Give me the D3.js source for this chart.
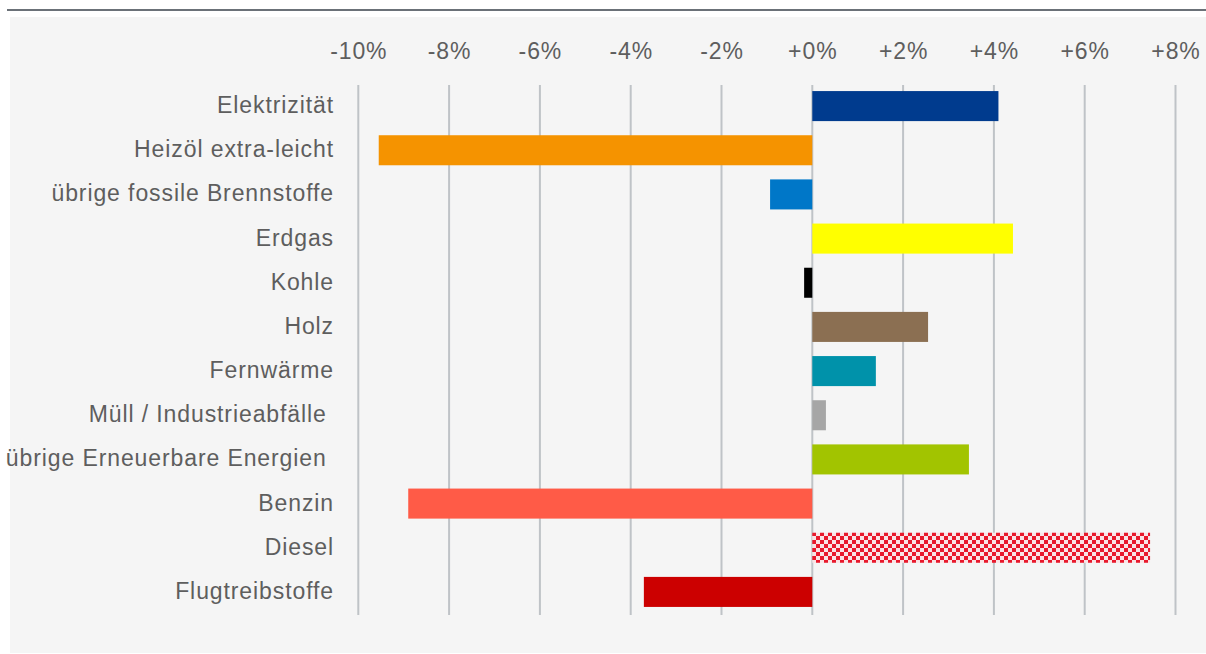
<!DOCTYPE html>
<html>
<head>
<meta charset="utf-8">
<script src="https://cdn.jsdelivr.net/npm/d3@7"></script>
<style>
  html, body { margin: 0; padding: 0; background: #ffffff; }
  svg { display: block; }
  text { font-family: "Liberation Sans", Arial, sans-serif; fill: #5e5e5e; }
</style>
</head>
<body>
<svg></svg>
<script>
var width = 1206;
var height = 654;

// categories, top to bottom
var categories = [
  "Elektrizität",
  "Heizöl extra-leicht",
  "übrige fossile Brennstoffe",
  "Erdgas",
  "Kohle",
  "Holz",
  "Fernwärme",
  "Müll / Industrieabfälle ",
  "übrige Erneuerbare Energien ",
  "Benzin",
  "Diesel",
  "Flugtreibstoffe"
];
// change in percent
var values = [4.1, -9.55, -0.93, 4.42, -0.18, 2.55, 1.4, 0.3, 3.45, -8.9, 7.44, -3.71];
var colors = ["#003b8e", "#f59300", "#0077c8", "#ffff00", "#000000", "#8b6f52",
  "#0092aa", "#a6a6a6", "#a2c400", "#ff5b47", "url(#checker)", "#cc0000"];
var tickValues = [-10, -8, -6, -4, -2, 0, 2, 4, 6, 8];

var svg = d3.select("svg")
  .attr("width", width)
  .attr("height", height);

// checker pattern for Diesel
var pat = svg.append("defs").append("pattern")
  .attr("id", "checker")
  .attr("patternUnits", "userSpaceOnUse")
  .attr("width", 8)
  .attr("height", 8);
pat.append("rect").attr("width", 8).attr("height", 8).attr("fill", "#f9e4e6");
pat.append("rect").attr("width", 4).attr("height", 4).attr("fill", "#e8192c");
pat.append("rect").attr("x", 4).attr("y", 4).attr("width", 4).attr("height", 4).attr("fill", "#e8192c");

// title rule + panel
svg.append("line")
  .attr("x1", 7).attr("x2", width)
  .attr("y1", 10).attr("y2", 10)
  .attr("stroke", "#6b7178")
  .attr("stroke-width", 2);

svg.append("rect")
  .attr("x", 10).attr("y", 17)
  .attr("width", width - 10).attr("height", 636)
  .attr("fill", "#f5f5f5");

var x = d3.scaleLinear()
  .domain([-10, 8])
  .range([358.3, 1175.5]);

var y = d3.scaleBand()
  .domain(categories)
  .range([84, 614])
  .paddingInner(0.32)
  .paddingOuter(0.16);

// gridlines
svg.append("g")
  .selectAll("line")
  .data(tickValues).enter()
  .append("line")
  .attr("x1", function(d) { return x(d); })
  .attr("x2", function(d) { return x(d); })
  .attr("y1", 85)
  .attr("y2", 615)
  .attr("stroke", "#bfc3c7")
  .attr("stroke-width", 2);

// tick labels on top
var xAxis = d3.axisTop(x)
  .tickValues(tickValues)
  .tickSize(0)
  .tickPadding(0)
  .tickFormat(function(d) { return (d < 0 ? "-" : "+") + Math.abs(d) + "%"; });

var gx = svg.append("g")
  .attr("transform", "translate(0,59)")
  .call(xAxis);
gx.select(".domain").remove();
gx.selectAll("text")
  .attr("y", 0)
  .attr("dy", 0)
  .style("font-size", "23px")
  .style("letter-spacing", "0.9px")
  .style("font-family", "'Liberation Sans', Arial, sans-serif")
  .attr("fill", "#5e5e5e");

// bars
svg.append("g")
  .selectAll("rect")
  .data(categories).enter()
  .append("rect")
  .attr("x", function(d, i) { return x(Math.min(0, values[i])); })
  .attr("width", function(d, i) { return Math.abs(x(values[i]) - x(0)); })
  .attr("y", function(d) { return y(d); })
  .attr("height", y.bandwidth())
  .attr("fill", function(d, i) { return colors[i]; });

// category labels
svg.append("g")
  .selectAll("text")
  .data(categories).enter()
  .append("text")
  .attr("x", 334)
  .attr("y", function(d) { return y(d) + y.bandwidth() / 2 + 7; })
  .attr("text-anchor", "end")
  .style("font-size", "23px")
  .style("letter-spacing", "0.9px")
  .style("white-space", "pre")
  .text(function(d) { return d; });
</script>
</body>
</html>
